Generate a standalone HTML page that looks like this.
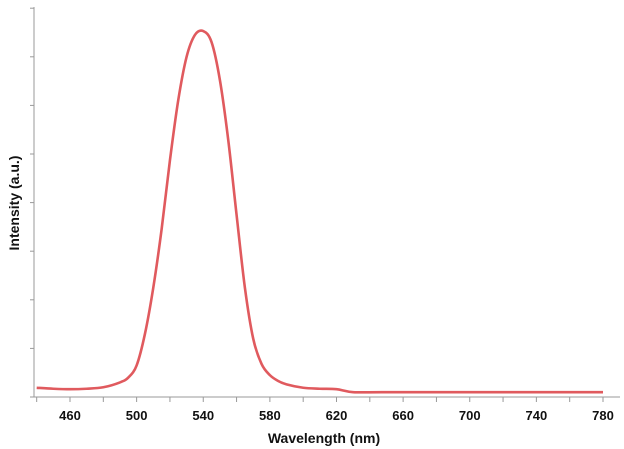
<!DOCTYPE html>
<html><head><meta charset="utf-8"><style>
body{margin:0;background:#fff;}
svg{display:block;font-family:"Liberation Sans",sans-serif;}
</style></head><body>
<svg id="chart" width="624" height="449">
<g id="axes"></g>
<path id="line" fill="none" stroke="#e05a5e" stroke-width="2.6" stroke-linejoin="round"/>
<text x="324" y="443" text-anchor="middle" font-size="14" font-weight="bold" fill="#111">Wavelength (nm)</text>
<text transform="translate(19,203) rotate(-90)" text-anchor="middle" font-size="14" font-weight="bold" fill="#111">Intensity (a.u.)</text>
</svg>
<script>
const wavelengths=[440,450,460,470,480,490,495,500,505,510,515,520,525,530,535,540,545,550,555,560,565,570,575,580,585,590,600,610,620,630,650,700,780];
const intensities=[0.19,0.17,0.16,0.17,0.2,0.3,0.4,0.65,1.3,2.25,3.45,4.87,6.11,7.0,7.45,7.53,7.3,6.52,5.29,3.75,2.25,1.2,0.68,0.45,0.33,0.26,0.19,0.17,0.16,0.1,0.1,0.1,0.1];
const xTicks=[460,500,540,580,620,660,700,740,780];
const yTickValues=[0,1,2,3,4,5,6,7,8];
const X=w=>70+(w-460)*(533/320);
const Y=v=>397-v*48.6;
const NS='http://www.w3.org/2000/svg';
const axes=document.getElementById('axes');
function mk(tag,attrs){const e=document.createElementNS(NS,tag);for(const k in attrs)e.setAttribute(k,attrs[k]);return e;}
let e=mk('line',{x1:34,y1:Y(0),x2:620,y2:Y(0),stroke:'#999','stroke-width':1});


axes.appendChild(e);
e=mk('line',{x1:34,y1:7,x2:34,y2:Y(0),stroke:'#999','stroke-width':1});


axes.appendChild(e);
yTickValues.forEach(v=>{const t=mk('line',{x1:30,y1:Y(v),x2:34,y2:Y(v),stroke:'#999'});


axes.appendChild(t);});
for(let w=440;w<=790;w+=20){const t=mk('line',{x1:X(w),y1:Y(0),x2:X(w),y2:Y(0)+5,stroke:'#999'});


axes.appendChild(t);}
xTicks.forEach(w=>{const t=mk('text',{x:X(w),y:420,'text-anchor':'middle','font-size':13,'font-weight':'bold',fill:'#111'});
t.textContent=w;


axes.appendChild(t);});
const pts=wavelengths.map((w,i)=>[X(w),Y(intensities[i])]);
let d='M'+pts[0][0]+','+pts[0][1];
for(let i=0;i<pts.length-1;i++){const p0=pts[i-1]||pts[i],p1=pts[i],p2=pts[i+1],p3=pts[i+2]||p2;
d+=' C'+(p1[0]+(p2[0]-p0[0])/6)+','+(p1[1]+(p2[1]-p0[1])/6)+' '+(p2[0]-(p3[0]-p1[0])/6)+','+(p2[1]-(p3[1]-p1[1])/6)+' '+p2[0]+','+p2[1];}
document.getElementById('line').setAttribute('d',d);
</script>
</body></html>
